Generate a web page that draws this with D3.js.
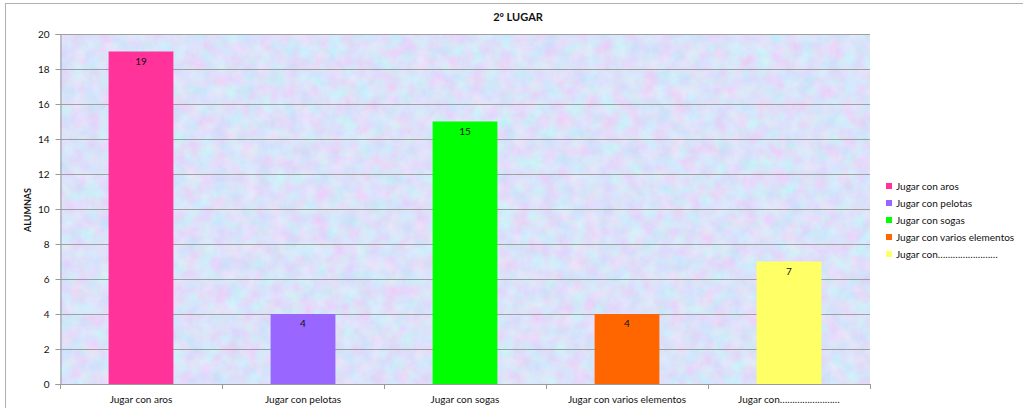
<!DOCTYPE html>
<html>
<head>
<meta charset="utf-8">
<script src="https://cdn.jsdelivr.net/npm/d3@7"></script>
<style>
  html, body { margin: 0; padding: 0; background: #fff; }
  svg { display: block; font-family: Lato, "Open Sans", "Liberation Sans", sans-serif; }
</style>
</head>
<body>
<svg id="chart" width="1023" height="408"></svg>
<script>
// Chart content
const title = "2º LUGAR";
const yLabel = "ALUMNAS";
const categories = ["Jugar con aros", "Jugar con pelotas", "Jugar con sogas", "Jugar con varios elementos", "Jugar con……………………"];
const values = [19, 4, 15, 4, 7];
const colors = ["#FF3399", "#9966FF", "#00FF00", "#FF6600", "#FFFF66"];
const yTicks = [0, 2, 4, 6, 8, 10, 12, 14, 16, 18, 20];

const svg = d3.select("#chart");
const plot = { left: 60, right: 870, top: 34, bottom: 384 };

// Chart frame
svg.append("rect")
  .attr("x", 5.5).attr("y", 3.5)
  .attr("width", 1040).attr("height", 430)
  .attr("fill", "#fff").attr("stroke", "#b0b0b0").attr("stroke-width", 1);

// Mottled paper texture for the plot area
const defs = svg.append("defs");
const f = defs.append("filter").attr("id", "paper")
  .attr("x", 0).attr("y", 0).attr("width", 1).attr("height", 1);
f.append("feTurbulence").attr("type", "fractalNoise")
  .attr("baseFrequency", "0.07").attr("numOctaves", 5).attr("seed", 7).attr("result", "noise");
f.append("feColorMatrix").attr("in", "noise").attr("type", "matrix")
  .attr("values", [
    "0.42 0 0 0 0.50",
    "-0.22 0.26 0 0 0.74",
    "0 0 0.12 0 0.89",
    "0 0 0 0 1"
  ].join(" "));

const x = d3.scaleBand().domain(categories).range([plot.left, plot.right]).paddingInner(0.6).paddingOuter(0.3);
const xBoundaries = d3.scaleLinear().domain([0, categories.length]).range([plot.left, plot.right]);
const y = d3.scaleLinear().domain([0, 20]).range([plot.bottom, plot.top]);

svg.append("rect")
  .attr("x", plot.left).attr("y", plot.top)
  .attr("width", plot.right - plot.left).attr("height", plot.bottom - plot.top)
  .attr("filter", "url(#paper)");

// Gridlines
svg.append("g").selectAll("line").data(yTicks.filter(d => d > 0)).join("line")
  .attr("x1", plot.left).attr("x2", plot.right)
  .attr("y1", d => Math.round(y(d)) + 0.5).attr("y2", d => Math.round(y(d)) + 0.5)
  .attr("stroke", "#a0a0a0").attr("stroke-width", 1.2);

// Y axis
const yAxis = svg.append("g").attr("transform", `translate(${plot.left + 0.5},0)`)
  .call(d3.axisLeft(y).tickValues(yTicks).tickSize(5).tickPadding(6));
yAxis.select(".domain").attr("stroke", "#9a9a9a");
yAxis.selectAll(".tick line").attr("stroke", "#9a9a9a");
yAxis.selectAll(".tick text").attr("font-size", 10).attr("fill", "#111")
  .attr("font-family", "Lato, 'Open Sans', sans-serif");

// X axis with ticks at category boundaries
const xg = svg.append("g");
xg.append("line")
  .attr("x1", plot.left).attr("x2", plot.right)
  .attr("y1", plot.bottom + 0.5).attr("y2", plot.bottom + 0.5)
  .attr("stroke", "#9a9a9a");
xg.selectAll("line.tk").data(d3.range(categories.length + 1)).join("line")
  .attr("class", "tk")
  .attr("x1", d => Math.round(xBoundaries(d)) + 0.5).attr("x2", d => Math.round(xBoundaries(d)) + 0.5)
  .attr("y1", plot.bottom).attr("y2", plot.bottom + 5)
  .attr("stroke", "#9a9a9a");
xg.selectAll("text").data(categories).join("text")
  .attr("x", d => x(d) + x.bandwidth() / 2)
  .attr("y", 403)
  .attr("text-anchor", "middle")
  .attr("font-size", 10).attr("fill", "#111")
  .text(d => d);

// Bars
svg.append("g").selectAll("rect").data(categories).join("rect")
  .attr("x", d => x(d)).attr("width", x.bandwidth())
  .attr("y", (d, i) => y(values[i]))
  .attr("height", (d, i) => y(0) - y(values[i]))
  .attr("fill", (d, i) => colors[i]);

// Value labels
svg.append("g").selectAll("text").data(categories).join("text")
  .attr("x", d => x(d) + x.bandwidth() / 2)
  .attr("y", (d, i) => y(values[i]) + 13)
  .attr("text-anchor", "middle")
  .attr("font-size", 10).attr("fill", "#111")
  .text((d, i) => values[i]);

// Title
svg.append("text")
  .attr("x", 518).attr("y", 21)
  .attr("text-anchor", "middle")
  .attr("font-size", 11).attr("font-weight", "bold").attr("fill", "#111")
  .text(title);

// Y axis title
svg.append("text")
  .attr("transform", "translate(31,210) rotate(-90)")
  .attr("text-anchor", "middle")
  .attr("font-size", 9).attr("font-weight", "bold").attr("fill", "#111")
  .text(yLabel);

// Legend
const legend = svg.append("g").attr("transform", "translate(886,186)");
const rows = legend.selectAll("g").data(categories).join("g")
  .attr("transform", (d, i) => `translate(0,${i * 17})`);
rows.append("rect")
  .attr("x", 0).attr("y", -3).attr("width", 6).attr("height", 6)
  .attr("fill", (d, i) => colors[i]);
rows.append("text")
  .attr("x", 10).attr("y", 3.5)
  .attr("font-size", 10).attr("fill", "#111")
  .text(d => d);
</script>
</body>
</html>
